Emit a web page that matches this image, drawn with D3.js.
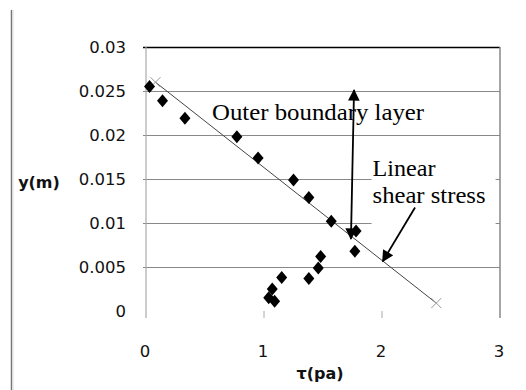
<!DOCTYPE html>
<html>
<head>
<meta charset="utf-8">
<script src="https://cdn.jsdelivr.net/npm/d3@7"></script>
<style>
  html, body { margin: 0; padding: 0; background: #fff; }
  svg { display: block; }
</style>
</head>
<body>
<svg id="chart" width="526" height="390"></svg>
<script>
// Measured shear stress profile
const tauPa = [0.03, 0.14, 0.33, 0.77, 0.95, 1.25, 1.38, 1.57, 1.78, 1.77, 1.48, 1.46, 1.38, 1.15, 1.07, 1.04, 1.09];
const yM    = [0.0255, 0.0239, 0.0219, 0.0198, 0.0174, 0.0149, 0.0129, 0.0102, 0.0091, 0.0068, 0.0062, 0.0049, 0.0037, 0.0038, 0.0025, 0.0015, 0.0011];

// Linear shear stress distribution (end points)
const linTau = [0.08, 2.46];
const linY   = [0.0260, 0.0009];

// Axis ticks
const xTicks = [0, 1, 2, 3];
const yTicks = [0, 0.005, 0.01, 0.015, 0.02, 0.025, 0.03];
const yTickLabels = ["0", "0.005", "0.01", "0.015", "0.02", "0.025", "0.03"];

const svg = d3.select("#chart");
const plotL = 146, plotR = 500, plotT = 47, plotB = 311;

const x = d3.scaleLinear().domain([0, 3]).range([plotL, plotR]);
const y = d3.scaleLinear().domain([0, 0.03]).range([plotB, plotT]);

// page frame line on the left
svg.append("line").attr("x1", 11.5).attr("x2", 11.5).attr("y1", 10).attr("y2", 390)
  .attr("stroke", "#777").attr("stroke-width", 1.5);
svg.append("line").attr("x1", 13).attr("x2", 13).attr("y1", 10).attr("y2", 390)
  .attr("stroke", "#ddd").attr("stroke-width", 1);

// horizontal gridlines (skip zero, top line is black)
const grid = svg.append("g");
yTicks.filter(d => d > 0).forEach(d => {
  grid.append("line")
    .attr("x1", plotL - 3).attr("x2", plotR)
    .attr("y1", Math.round(y(d)) + 0.5).attr("y2", Math.round(y(d)) + 0.5)
    .attr("stroke", d === 0.03 ? "#000" : "#888").attr("stroke-width", d === 0.03 ? 1.5 : 1);
});

// plot borders left and right
svg.append("line").attr("x1", plotL).attr("x2", plotL).attr("y1", plotT).attr("y2", plotB + 7)
  .attr("stroke", "#aaa").attr("stroke-width", 1.2);
svg.append("line").attr("x1", plotR).attr("x2", plotR).attr("y1", plotT).attr("y2", plotB + 7)
  .attr("stroke", "#888").attr("stroke-width", 1.5);

// x tick marks below the zero level
xTicks.slice(1, 3).forEach(d => {
  svg.append("line").attr("x1", x(d)).attr("x2", x(d)).attr("y1", plotB).attr("y2", plotB + 7)
    .attr("stroke", "#aaa").attr("stroke-width", 1);
});

// tick labels
const tickFont = "'DejaVu Sans', 'Liberation Sans', sans-serif";
svg.append("g").selectAll("text").data(yTicks).join("text")
  .attr("x", 126).attr("y", d => y(d)).attr("dy", "0.36em")
  .attr("text-anchor", "end")
  .attr("font-family", tickFont).attr("font-size", 16.5).attr("fill", "#111")
  .text((d, i) => yTickLabels[i]);

svg.append("g").selectAll("text").data(xTicks).join("text")
  .attr("x", d => x(d) - 1).attr("y", 357)
  .attr("text-anchor", "middle")
  .attr("font-family", tickFont).attr("font-size", 16.5).attr("fill", "#111")
  .text(d => d);

// axis titles
svg.append("text").attr("x", 39).attr("y", 188).attr("text-anchor", "middle")
  .attr("font-family", tickFont).attr("font-weight", "bold").attr("font-size", 16).attr("fill", "#111")
  .text("y(m)");
svg.append("text").attr("x", 320).attr("y", 379).attr("text-anchor", "middle")
  .attr("font-family", tickFont).attr("font-weight", "bold").attr("font-size", 16).attr("fill", "#111")
  .text("τ(pa)");

// white box behind the linear shear stress label
svg.append("rect").attr("x", x(1.92) - 1).attr("y", y(0.0188)).attr("width", 124).attr("height", y(0.0097) - y(0.0188))
  .attr("fill", "#fff");

// linear shear stress line with cross markers at its ends
const linPts = linTau.map((t, i) => [x(t), y(linY[i])]);
svg.append("path").attr("d", d3.line()(linPts))
  .attr("fill", "none").attr("stroke", "#444").attr("stroke-width", 1);
svg.append("g").selectAll("path").data(linPts).join("path")
  .attr("transform", d => `translate(${d[0]},${d[1]})`)
  .attr("d", "M-5,-5L5,5M-5,5L5,-5")
  .attr("stroke", "#999").attr("stroke-width", 1).attr("fill", "none");

// measured points as diamonds
const diamond = {
  draw(ctx, size) {
    const w = 5.5, h = 6.5;
    ctx.moveTo(0, -h); ctx.lineTo(w, 0); ctx.lineTo(0, h); ctx.lineTo(-w, 0); ctx.closePath();
  }
};
svg.append("g").selectAll("path").data(tauPa.map((t, i) => [t, yM[i]])).join("path")
  .attr("transform", d => `translate(${x(d[0])},${y(d[1])})`)
  .attr("d", d3.symbol().type(diamond).size(60)())
  .attr("fill", "#000");

// arrow heads
const defs = svg.append("defs");
defs.append("marker").attr("id", "head").attr("viewBox", "0 0 10 10")
  .attr("refX", 9).attr("refY", 5).attr("markerWidth", 7).attr("markerHeight", 6.5)
  .attr("markerUnits", "strokeWidth").attr("orient", "auto-start-reverse")
  .append("path").attr("d", "M0,0L10,5L0,10Z").attr("fill", "#000");

// outer boundary layer: double-headed arrow
svg.append("line")
  .attr("x1", x(1.737)).attr("y1", y(0.0082)).attr("x2", x(1.763)).attr("y2", y(0.0251))
  .attr("stroke", "#000").attr("stroke-width", 1.8)
  .attr("marker-start", "url(#head)").attr("marker-end", "url(#head)");

// linear shear stress: single arrow
svg.append("line")
  .attr("x1", x(2.28)).attr("y1", y(0.01176)).attr("x2", x(2.006)).attr("y2", y(0.00564))
  .attr("stroke", "#000").attr("stroke-width", 1.8)
  .attr("marker-end", "url(#head)");

// annotation labels
const serif = "'Liberation Serif', 'Times New Roman', serif";
svg.append("text").attr("x", x(0.56)).attr("y", y(0.02165))
  .attr("font-family", serif).attr("font-size", 24).attr("fill", "#000")
  .attr("textLength", 212).attr("lengthAdjust", "spacingAndGlyphs")
  .text("Outer boundary layer");
svg.append("text").attr("x", x(1.92)).attr("y", y(0.01534))
  .attr("font-family", serif).attr("font-size", 24).attr("fill", "#000")
  .attr("textLength", 63).attr("lengthAdjust", "spacingAndGlyphs")
  .text("Linear");
svg.append("text").attr("x", x(1.92)).attr("y", y(0.01229))
  .attr("font-family", serif).attr("font-size", 24).attr("fill", "#000")
  .attr("textLength", 113).attr("lengthAdjust", "spacingAndGlyphs")
  .text("shear stress");
</script>
</body>
</html>
